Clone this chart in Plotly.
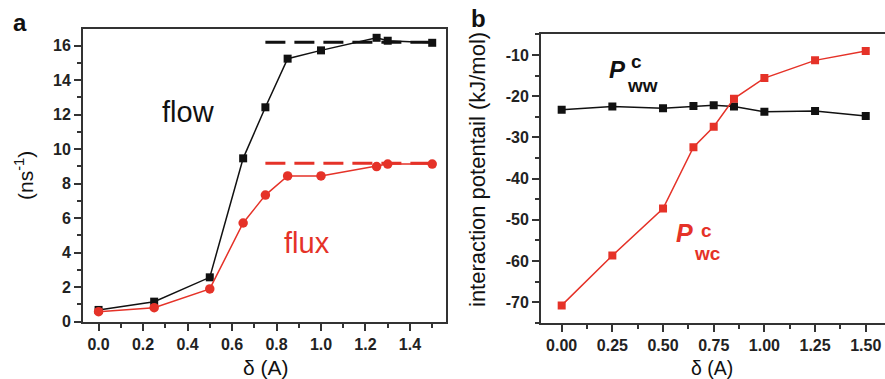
import plotly.graph_objects as go

# Panel a data
delta_a = [0.0, 0.25, 0.5, 0.65, 0.75, 0.85, 1.0, 1.25, 1.3, 1.5]
flow = [0.68, 1.16, 2.57, 9.47, 12.43, 15.25, 15.73, 16.46, 16.29, 16.17]
flux = [0.58, 0.81, 1.90, 5.72, 7.34, 8.45, 8.45, 8.99, 9.14, 9.14]
flow_ref_x = [0.75, 1.5]
flow_ref = [16.2, 16.2]
flux_ref_x = [0.75, 1.5]
flux_ref = [9.18, 9.18]

# Panel b data
delta_b = [0.0, 0.25, 0.5, 0.65, 0.75, 0.85, 1.0, 1.25, 1.5]
p_ww = [-23.3, -22.5, -22.9, -22.4, -22.2, -22.5, -23.8, -23.6, -24.8]
p_wc = [-70.8, -58.7, -47.3, -32.4, -27.4, -20.6, -15.6, -11.3, -9.0]

# tick labels of panel b y axis (hyphen minus as in the reference)
pot_ticks = [-70, -60, -50, -40, -30, -20, -10]
pot_labels = ["-70", "-60", "-50", "-40", "-30", "-20", "-10"]

BLACK = "#111111"
RED = "#e53228"
FONT = "Liberation Sans, Arial, sans-serif"

W, H = 885, 379
def px(x):
    return x / W
def py(y):
    return 1 - y / H

fig = go.Figure()

# panel a
fig.add_trace(go.Scatter(x=flow_ref_x, y=flow_ref, mode="lines",
                         line=dict(color=BLACK, width=3, dash="20px,9px"),
                         xaxis="x", yaxis="y", showlegend=False))
fig.add_trace(go.Scatter(x=flux_ref_x, y=flux_ref, mode="lines",
                         line=dict(color=RED, width=3, dash="20px,9px"),
                         xaxis="x", yaxis="y", showlegend=False))
fig.add_trace(go.Scatter(x=delta_a, y=flow, mode="lines+markers",
                         line=dict(color=BLACK, width=1.5),
                         marker=dict(symbol="square", size=8, color=BLACK),
                         xaxis="x", yaxis="y", showlegend=False))
fig.add_trace(go.Scatter(x=delta_a, y=flux, mode="lines+markers",
                         line=dict(color=RED, width=1.5),
                         marker=dict(symbol="circle", size=9.5, color=RED),
                         xaxis="x", yaxis="y", showlegend=False))

# panel b
fig.add_trace(go.Scatter(x=delta_b, y=p_ww, mode="lines+markers",
                         line=dict(color=BLACK, width=1.5),
                         marker=dict(symbol="square", size=8, color=BLACK),
                         xaxis="x2", yaxis="y2", showlegend=False))
fig.add_trace(go.Scatter(x=delta_b, y=p_wc, mode="lines+markers",
                         line=dict(color=RED, width=1.5),
                         marker=dict(symbol="square", size=8, color=RED),
                         xaxis="x2", yaxis="y2", showlegend=False))

LC = "#333333"
axis_common = dict(showline=True, linecolor=LC, linewidth=2, mirror=True,
                   ticks="outside", ticklen=7, tickwidth=2, tickcolor=LC,
                   showgrid=False, zeroline=False, automargin=False,
                   tickfont=dict(family=FONT, size=16, color="#222222", weight=700))
minor_common = dict(ticks="outside", ticklen=4, tickwidth=1.5, tickcolor=LC)

fig.update_layout(
    width=W, height=H,
    margin=dict(l=0, r=0, t=0, b=0),
    paper_bgcolor="white", plot_bgcolor="white",
    font=dict(family=FONT, color="#111111"),
    xaxis=dict(axis_common, domain=[px(83), px(446)], range=[-0.07, 1.562],
               dtick=0.2, tick0=0, tickformat=".1f",
               minor=dict(minor_common, dtick=0.1),
               anchor="y"),
    yaxis=dict(axis_common, domain=[py(322), py(29)], range=[-0.02, 16.97],
               dtick=2, tick0=0,
               minor=dict(minor_common, dtick=1),
               anchor="x"),
    xaxis2=dict(axis_common, domain=[px(541), 1.0], range=[-0.102, 1.595],
                dtick=0.25, tick0=0, tickformat=".2f",
                minor=dict(minor_common, dtick=0.125),
                anchor="y2"),
    yaxis2=dict(axis_common, domain=[py(322.7), py(34)], range=[-75, -4.9],
                tickmode="array", tickvals=pot_ticks, ticktext=pot_labels,
                minor=dict(minor_common, dtick=5, tick0=0),
                anchor="x2"),
)

ann = []
def A(text, x, y, size, color="#111111", bold=False, italic=False, angle=0):
    ann.append(dict(text=text, x=px(x), y=py(y), xref="paper", yref="paper", showarrow=False,
                    textangle=angle, xanchor="center", yanchor="middle",
                    font=dict(family=FONT, size=size, color=color,
                              weight=700 if bold else 400,
                              style="italic" if italic else "normal")))

# panel labels
A("a", 20, 22, 24, bold=True)
A("b", 478, 18, 24, bold=True)
# axis titles
A("δ (A)", 266, 367, 21)
A("δ (A)", 712, 368, 19.5)
A("(ns<sup>-1</sup>)", 24, 176, 21, angle=-90)
A("interaction potentail (kJ/mol)", 477, 170, 22, angle=-90)
# in-plot labels
A("flow", 188, 112, 29)
A("flux", 307, 243, 29, color=RED)
A("P", 617, 69, 24, bold=True, italic=True)
A("c", 636, 62, 19, bold=True)
A("ww", 642, 86, 19, bold=True)
A("P", 684, 233, 25, color=RED, bold=True, italic=True)
A("c", 706, 230, 19, color=RED, bold=True)
A("wc", 707, 253, 19, color=RED, bold=True)

fig.update_layout(annotations=ann)
# the page body would otherwise add an 8px margin around the figure
fig.write_html("out.html", config={"displayModeBar": False},
               post_script="document.body.style.margin='0';document.body.style.overflow='hidden';")
